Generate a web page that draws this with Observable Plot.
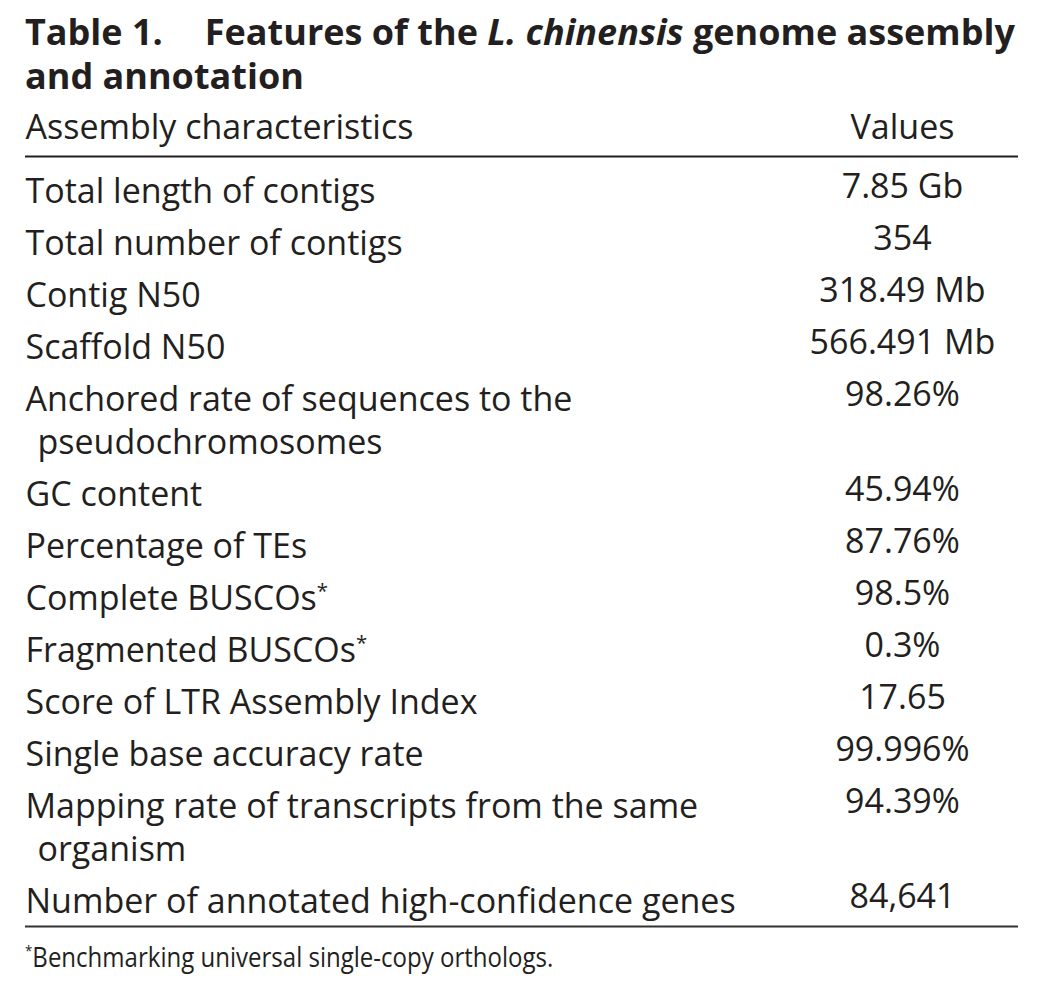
<!DOCTYPE html>
<html><head><meta charset="utf-8">
<script src="https://cdn.jsdelivr.net/npm/d3@7"></script>
<script src="https://cdn.jsdelivr.net/npm/@observablehq/plot@0.6"></script>
<style>
html,body{margin:0;padding:0;background:#fff;}
body{font-family:"Open Sans",sans-serif;color:#231f20;width:1042px;min-height:984px;}
#title{box-sizing:border-box;height:100px;padding:10px 0 0 25px;font-weight:700;font-size:36px;line-height:44px;white-space:nowrap;}
#title .num{margin-right:42px;}
#title .line{display:block;}
#chart svg{display:block;}
#foot{padding:3px 0 0 25px;font-size:27px;line-height:28px;height:40px;white-space:nowrap;}
#foot span{display:inline-block;transform:scaleX(0.89);transform-origin:left center;}
#foot sup{font-size:15px;vertical-align:11px;line-height:0;}
</style></head><body>
<div id="title"></div>
<div id="chart"></div>
<div id="foot"></div>
<script>
// ---- table content ----
const titleNumber = "Table 1.";
const titleBefore = "Features of the ";
const titleItalic = "L. chinensis";
const titleAfter = " genome assembly";
const titleLine2 = "and annotation";
const columns = ["Assembly characteristics", "Values"];
const labels = [
  "Total length of contigs",
  "Total number of contigs",
  "Contig N50",
  "Scaffold N50",
  "Anchored rate of sequences to the\npseudochromosomes",
  "GC content",
  "Percentage of TEs",
  "Complete BUSCOs*",
  "Fragmented BUSCOs*",
  "Score of LTR Assembly Index",
  "Single base accuracy rate",
  "Mapping rate of transcripts from the same\norganism",
  "Number of annotated high-confidence genes"
];
const values = ["7.85 Gb", "354", "318.49 Mb", "566.491 Mb", "98.26%", "45.94%", "87.76%", "98.5%", "0.3%", "17.65", "99.996%", "94.39%", "84,641"];
const footMark = "*";
const footnote = "Benchmarking universal single-copy orthologs.";

// ---- title & footnote ----
const t = document.getElementById("title");
const l1 = document.createElement("span"); l1.className = "line";
const num = document.createElement("span"); num.className = "num"; num.textContent = titleNumber;
const b1 = document.createElement("span"); b1.textContent = titleBefore;
const it = document.createElement("i"); it.textContent = titleItalic;
const a1 = document.createElement("span"); a1.textContent = titleAfter;
l1.append(num, b1, it, a1);
const l2 = document.createElement("span"); l2.className = "line"; l2.textContent = titleLine2;
t.append(l1, l2);
const f = document.getElementById("foot");
const fs = document.createElement("span");
const sup = document.createElement("sup"); sup.textContent = footMark;
fs.append(sup, document.createTextNode(footnote));
f.append(fs);

// ---- layout derived from row order and line counts ----
const lineStep = 43 / 52;
let acc = 0;
const rows = labels.map((lab, i) => {
  const lines = lab.split("\n");
  const r = {lines, value: values[i], pos: acc};
  acc += 1 + (lines.length - 1) * lineStep;
  return r;
});
const firstLines = rows.map(r => ({text: r.lines[0], pos: r.pos}));
const contLines = rows.flatMap(r => r.lines.slice(1).map((s, k) => ({text: s, pos: r.pos + (k + 1) * lineStep})));
const lastPos = rows[rows.length - 1].pos;
const ink = "#231f20";
const fontSize = 34;

const chart = Plot.plot({
  width: 1042, height: 840,
  marginTop: 0, marginBottom: 0, marginLeft: 25, marginRight: 24,
  x: {type: "point", domain: columns, range: [25, 902], padding: 0, axis: null},
  y: {type: "linear", domain: [0, 1], range: [102, 154], axis: null},
  style: {fontFamily: "Open Sans", color: ink, background: "transparent"},
  marks: [
    Plot.text([columns[0]], {x: d => d, y: () => 0, dy: -64, text: d => d, textAnchor: "start", lineAnchor: "bottom", fontSize, fill: ink}),
    Plot.text([columns[1]], {x: d => d, y: () => 0, dy: -64, text: d => d, textAnchor: "middle", lineAnchor: "bottom", fontSize, fill: ink}),
    Plot.ruleY([0], {dy: -46, stroke: ink, strokeWidth: 2}),
    Plot.text(firstLines, {x: () => columns[0], y: "pos", text: "text", textAnchor: "start", lineAnchor: "bottom", fontSize, fill: ink}),
    Plot.text(contLines, {x: () => columns[0], y: "pos", text: "text", dx: 12, textAnchor: "start", lineAnchor: "bottom", fontSize, fill: ink}),
    Plot.text(rows, {x: () => columns[1], y: "pos", text: "value", dy: -5, textAnchor: "middle", lineAnchor: "bottom", fontSize, fill: ink}),
    Plot.ruleY([lastPos], {dy: 14, stroke: "#333", strokeWidth: 2})
  ]
});
// superscript footnote markers
d3.select(chart).selectAll("text").each(function() {
  const s = this.textContent;
  if (s.endsWith(footMark) && this.childElementCount === 0) {
    this.textContent = s.slice(0, -1);
    const ts = document.createElementNS("http://www.w3.org/2000/svg", "tspan");
    ts.setAttribute("dy", "-0.55em");
    ts.setAttribute("font-size", "0.6em");
    ts.textContent = footMark;
    this.appendChild(ts);
  }
});
document.getElementById("chart").append(chart);
</script>
</body></html>
